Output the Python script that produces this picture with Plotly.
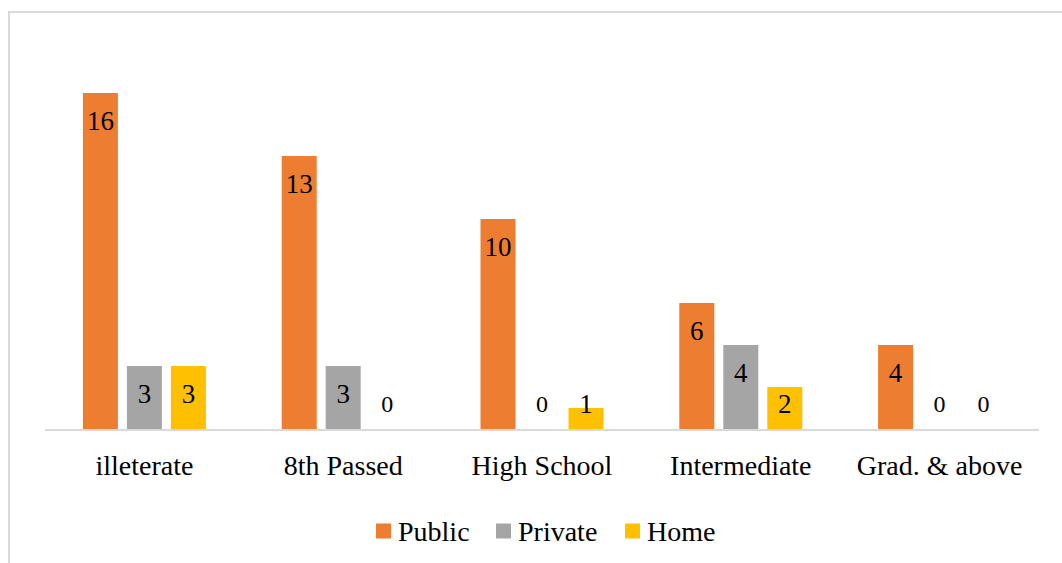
import numpy as np
import plotly.graph_objects as go

# Education level of respondents vs. type of school
categories = ["illeterate", "8th Passed", "High School", "Intermediate", "Grad. & above"]
public = [16, 13, 10, 6, 4]
private = [3, 3, 0, 4, 0]
home = [3, 0, 1, 2, 0]

series = [
    ("Public", public, "#ED7D31"),
    ("Private", private, "#A5A5A5"),
    ("Home", home, "#FFC000"),
]

W, H = 1062, 563
ML, MR, MT, MB = 45, 23, 51, 134
font_family = "Liberation Serif"

slot = 0.2213       # distance between neighbouring bars inside a group (category units)
bar_w = 0.176       # bar width (category units)
y_max = 18

pw = W - ML - MR
ph = H - MT - MB


def px_x(x):
    """pixel column -> paper x"""
    return (x - ML) / pw


def px_y(y):
    """pixel row -> paper y"""
    return (H - MB - y) / ph


idx = np.arange(len(categories))
fig = go.Figure()

for k, (name, vals, color) in enumerate(series):
    xs = idx + (k - 1) * slot
    vals = np.array(vals, dtype=float)
    fig.add_trace(go.Bar(
        x=xs, y=vals, width=bar_w, name=name,
        marker=dict(color=color, line=dict(width=0)),
        hoverinfo="y", showlegend=False,
    ))
    # value labels sit just below the bar top, never lower than near the baseline
    label_y = np.maximum(vals - 1.45, 1.1)
    sizes = [27 if v > 0 else 24 for v in vals]
    fig.add_trace(go.Scatter(
        x=xs, y=label_y, mode="text",
        text=[f"{int(v)}" for v in vals],
        textposition="middle center",
        textfont=dict(family=font_family, size=sizes, color="#000000"),
        showlegend=False, hoverinfo="skip",
    ))

# outer chart frame (light grey, runs off the right and bottom edges)
fig.add_shape(
    type="rect", xref="paper", yref="paper",
    x0=px_x(9), x1=px_x(W + 10), y0=px_y(H + 10), y1=px_y(12),
    line=dict(color="#D9D9D9", width=2), fillcolor="rgba(0,0,0,0)", layer="below",
)

# legend row below the axis: colour swatch + series name
legend_y = 531
swatch = 15
legend_x = [376, 496, 625]
for (name, _, color), lx in zip(series, legend_x):
    fig.add_shape(
        type="rect", xref="paper", yref="paper",
        x0=px_x(lx), x1=px_x(lx + swatch),
        y0=px_y(legend_y + swatch / 2), y1=px_y(legend_y - swatch / 2),
        line=dict(width=0), fillcolor=color,
    )
    fig.add_annotation(
        xref="paper", yref="paper", x=px_x(lx + swatch + 5), y=px_y(legend_y),
        xanchor="left", yanchor="middle", showarrow=False,
        text=name, font=dict(family=font_family, size=28, color="#000000"),
    )

fig.update_layout(
    width=W, height=H,
    margin=dict(l=ML, r=MR, t=MT, b=MB, pad=0),
    paper_bgcolor="white", plot_bgcolor="white",
    barmode="overlay",
    showlegend=False,
    font=dict(family=font_family, size=28, color="#000000"),
    xaxis=dict(
        range=[-0.5, len(categories) - 0.5],
        tickvals=idx, ticktext=categories,
        showgrid=False, zeroline=False,
        showline=True, linecolor="#D9D9D9", linewidth=2,
        ticks="outside", ticklen=10, tickcolor="rgba(0,0,0,0)",
        tickfont=dict(family=font_family, size=28, color="#000000"),
        fixedrange=True,
    ),
    yaxis=dict(
        range=[0, y_max], visible=False, showgrid=False, zeroline=False,
        fixedrange=True,
    ),
)

fig.write_html("out.html")
